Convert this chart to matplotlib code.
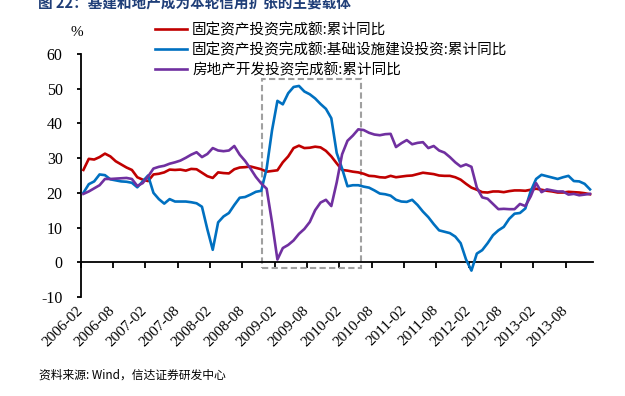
import matplotlib
matplotlib.use("Agg")
import matplotlib.pyplot as plt
import matplotlib.patches as patches
import numpy as np

# monthly, 2006-02 .. 2013-12
fai_total = [26.6, 29.8, 29.6, 30.3, 31.3, 30.5, 29.1, 28.2, 27.3, 26.6, 24.5,
             23.8, 23.4, 25.3, 25.5, 25.9, 26.7, 26.6, 26.7, 26.4, 26.9, 26.8, 25.8,
             24.8, 24.3, 25.9, 25.7, 25.6, 26.8, 27.3, 27.4, 27.6, 27.2, 26.8, 26.1,
             26.3, 26.5, 28.8, 30.5, 32.9, 33.6, 32.9, 33.0, 33.3, 33.1, 32.1, 30.5,
             28.5, 26.6, 26.4, 26.1, 25.9, 25.5, 24.9, 24.8, 24.5, 24.4, 24.9, 24.5,
             24.7, 24.9, 25.0, 25.4, 25.8, 25.6, 25.4, 25.0, 24.9, 24.9, 24.5, 23.8,
             22.6, 21.5, 20.9, 20.2, 20.1, 20.4, 20.4, 20.2, 20.5, 20.7, 20.7, 20.6,
             20.9, 21.2, 20.9, 20.6, 20.4, 20.1, 20.1, 20.3, 20.2, 20.1, 19.9, 19.6]

fai_infra = [20.0, 22.5, 23.3, 25.3, 25.1, 23.9, 23.6, 23.3, 23.2, 22.9, 21.6,
             23.3, 25.0, 20.0, 18.2, 16.9, 18.2, 17.5, 17.5, 17.5, 17.3, 17.0, 16.0,
             9.5, 3.6, 11.5, 13.2, 14.2, 16.5, 18.6, 18.8, 19.5, 20.3, 20.6, 27.0,
             38.0, 46.5, 45.5, 48.7, 50.5, 50.8, 49.2, 48.4, 47.2, 45.6, 44.2, 41.5,
             31.5, 27.0, 21.9, 22.2, 22.2, 21.8, 21.5, 20.7, 19.8, 19.6, 19.2, 18.0,
             17.5, 17.4, 18.0, 16.5, 14.6, 13.0, 11.0, 9.2, 8.8, 8.4, 7.4, 5.5,
             0.8, -2.4, 2.5, 3.5, 5.5, 7.8, 9.2, 10.2, 12.5, 14.0, 14.2, 15.5,
             20.5, 24.0, 25.2, 24.8, 24.4, 24.0, 24.5, 24.9, 23.4, 23.3, 22.6, 21.0]

realestate = [19.7, 20.4, 21.3, 22.2, 24.0, 24.0, 24.1, 24.2, 24.3, 24.0, 22.0,
              22.8, 24.7, 27.0, 27.5, 27.8, 28.4, 28.8, 29.3, 30.1, 31.0, 31.7, 30.3,
              31.2, 32.9, 32.2, 32.0, 32.2, 33.5, 31.0, 29.2, 27.0, 24.6, 22.7, 21.2,
              11.5, 0.8, 4.1, 5.0, 6.3, 8.2, 9.6, 11.6, 15.0, 17.2, 18.0, 16.2,
              23.0, 31.1, 35.0, 36.5, 38.3, 38.1, 37.3, 36.8, 36.6, 36.9, 37.0, 33.2,
              34.3, 35.2, 34.0, 34.4, 34.6, 32.9, 33.5, 32.2, 31.6, 30.3, 28.8, 27.6,
              28.2, 27.5, 21.5, 18.7, 18.3, 16.8, 15.3, 15.4, 15.3, 15.3, 16.8, 16.2,
              19.0, 22.8, 20.2, 21.0, 20.7, 20.4, 20.4, 19.5, 19.7, 19.3, 19.5, 19.7]

tick_labels = ['2006-02', '2006-08', '2007-02', '2007-08', '2008-02', '2008-08',
               '2009-02', '2009-08', '2010-02', '2010-08', '2011-02', '2011-08',
               '2012-02', '2012-08', '2013-02', '2013-08']

names = ['固定资产投资完成额:累计同比',
         '固定资产投资完成额:基础设施建设投资:累计同比',
         '房地产开发投资完成额:累计同比']
colors = ['#C00000', '#0070C0', '#7030A0']

cjk = ['Noto Sans CJK SC', 'DejaVu Sans']
serif = 'Liberation Serif'

W, H = 625, 396
fig = plt.figure(figsize=(W / 100, H / 100), dpi=100)
ax = fig.add_axes([80.7 / W, 1 - 297 / H, 512 / W, 243 / H])

# spine position first: moving it resets the tick objects
ax.spines['top'].set_visible(False)
ax.spines['right'].set_visible(False)
ax.spines['bottom'].set_position(('data', 0))
for s in ['left', 'bottom']:
    ax.spines[s].set_linewidth(1.3)

x = np.arange(len(fai_total))
lines = []
for ys, c in zip([fai_total, fai_infra, realestate], colors):
    ln, = ax.plot(x, ys, color=c, lw=1.9, solid_joinstyle='round', zorder=3)
    lines.append(ln)

# highlight box around 2009
box = patches.Rectangle((33.2, -1.6), 18.3, 54.4, fill=False, ec='#A0A0A0',
                        lw=1.5, ls=(0, (3, 1.6)), zorder=2, clip_on=False)
ax.add_patch(box)

ax.set_xlim(-0.5, len(x) - 0.5)
ax.set_ylim(-10, 60)
ax.tick_params(axis='y', direction='out', length=3, width=1.3, pad=10)
ax.tick_params(axis='x', direction='out', length=4, width=1.3, pad=29)
ax.set_yticks(range(-10, 61, 10))
ax.set_yticklabels([str(v) for v in range(-10, 61, 10)], fontsize=11.5, family=serif)
ax.set_xticks(np.arange(len(tick_labels)) * 6 - 0.5)
ax.set_xticklabels(tick_labels, rotation=45, ha='right', va='center',
                   rotation_mode='anchor', fontsize=11, family=serif)

fig.text(77 / W, 1 - 33 / H, '%', fontsize=11, family=serif, ha='center', va='center')

fig.legend(lines, names, loc='upper left', bbox_to_anchor=(155 / W, 1 - 23 / H),
           frameon=False, borderpad=0, borderaxespad=0, handlelength=2.2,
           handletextpad=0.35, labelspacing=0.38, prop={'family': cjk, 'size': 10.5})

fig.text(38 / W, 1 - 3 / H, '图 22：基建和地产成为本轮信用扩张的主要载体', fontsize=10.5,
         weight='bold', color='#1F3E78', family=cjk, va='center')
fig.text(39 / W, 1 - 375 / H, '资料来源: Wind，信达证券研发中心', fontsize=8.5,
         style='italic', family=cjk, va='center')

fig.savefig('out.png', dpi=100)
